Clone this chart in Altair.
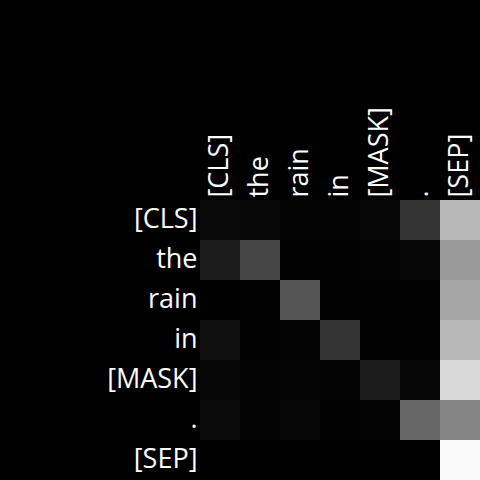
import altair as alt
import pandas as pd

tokens = ["[CLS]", "the", "rain", "in", "[MASK]", ".", "[SEP]"]
# attention weights (row = query token, column = key token)
weights = [
    [0.04, 0.03, 0.015, 0.012, 0.027, 0.20, 0.72],
    [0.105, 0.27, 0.008, 0.008, 0.012, 0.022, 0.60],
    [0.004, 0.008, 0.33, 0.008, 0.008, 0.008, 0.65],
    [0.06, 0.008, 0.012, 0.20, 0.008, 0.008, 0.72],
    [0.022, 0.015, 0.02, 0.012, 0.105, 0.027, 0.85],
    [0.045, 0.012, 0.025, 0.008, 0.012, 0.40, 0.52],
    [0.004, 0.004, 0.004, 0.004, 0.004, 0.004, 0.98],
]

rows = []
for i, q in enumerate(tokens):
    for j, k in enumerate(tokens):
        rows.append({"query": q, "key": k, "w": weights[i][j]})
df = pd.DataFrame(rows)

chart = alt.Chart(df).mark_rect().encode(
    x=alt.X("key:N", sort=tokens, title=None,
            axis=alt.Axis(orient="top", labelAngle=-90, ticks=False, domain=False,
                          labelPadding=3, labelColor="white", labelFontSize=27,
                          labelFont="Open Sans", labelBaseline="middle", labelAlign="left",
                          labelLimit=0)),
    y=alt.Y("query:N", sort=tokens, title=None,
            axis=alt.Axis(ticks=False, domain=False, labelPadding=3, labelColor="white",
                          labelFontSize=27, labelFont="Open Sans", labelLimit=0)),
    color=alt.Color("w:Q", scale=alt.Scale(domain=[0, 1], range=["#000000", "#ffffff"],
                                           interpolate="rgb"), legend=None),
).properties(
    width=280, height=280,
    background="black",
    padding={"left": 200, "top": 200, "right": 0, "bottom": 0},
    autosize=alt.AutoSizeParams(type="none"),
).configure_view(strokeWidth=0).configure_scale(bandPaddingInner=0, bandPaddingOuter=0)

chart.save("out.html", embed_options={"renderer": "svg", "actions": False})
